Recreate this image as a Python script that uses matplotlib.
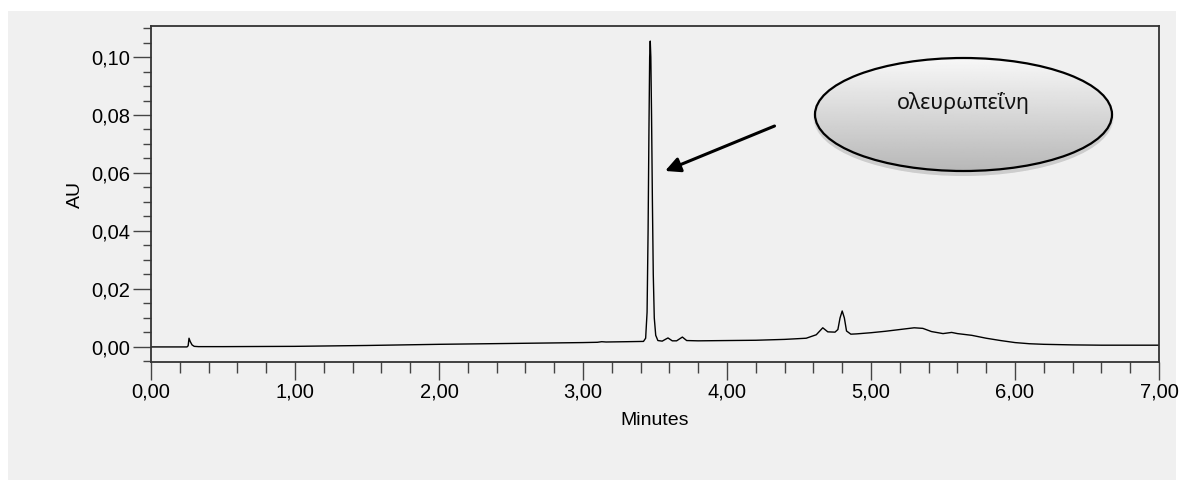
import numpy as np
import matplotlib.pyplot as plt
from matplotlib.patches import Ellipse, Rectangle
from matplotlib.ticker import MultipleLocator, FuncFormatter

plt.rcParams['font.family'] = ['Liberation Sans', 'DejaVu Sans']

# chromatogram trace (retention time in minutes, absorbance in AU)
minutes = [0.00, 0.25, 0.258, 0.264, 0.272, 0.285, 0.30, 0.33, 0.50, 1.00,
           1.50, 2.00, 2.50, 3.00, 3.10, 3.13, 3.16, 3.30, 3.42, 3.435,
           3.445, 3.452, 3.458, 3.463, 3.467, 3.471, 3.476, 3.482, 3.488, 3.495,
           3.505, 3.52, 3.55, 3.59, 3.62, 3.65, 3.69, 3.72, 3.80, 4.00,
           4.20, 4.40, 4.55, 4.62, 4.665, 4.70, 4.75, 4.77, 4.785, 4.80,
           4.815, 4.83, 4.86, 4.90, 5.00, 5.10, 5.20, 5.30, 5.36, 5.42,
           5.50, 5.56, 5.60, 5.70, 5.80, 5.90, 6.00, 6.10, 6.20, 6.40,
           6.60, 7.00]
au = [0.0000, 0.0000, 0.0004, 0.0030, 0.0019, 0.0007, 0.0002, 0.0001, 0.0001, 0.0002,
      0.0005, 0.0009, 0.0012, 0.0015, 0.0016, 0.0018, 0.0017, 0.0018, 0.0019, 0.0030,
      0.0120, 0.0400, 0.0750, 0.1000, 0.1055, 0.1000, 0.0800, 0.0500, 0.0250, 0.0100,
      0.0040, 0.0022, 0.0020, 0.0031, 0.0021, 0.0021, 0.0034, 0.0022, 0.0021, 0.0022,
      0.0023, 0.0026, 0.0030, 0.0042, 0.0066, 0.0052, 0.0051, 0.0060, 0.0100, 0.0124,
      0.0100, 0.0055, 0.0044, 0.0045, 0.0049, 0.0054, 0.0060, 0.0066, 0.0064, 0.0053,
      0.0046, 0.0050, 0.0046, 0.0040, 0.0030, 0.0022, 0.0015, 0.0011, 0.0009, 0.0007,
      0.0006, 0.0006]

peak_label = 'ολευρωπεΐνη'
bg = '#f0f0f0'

fig = plt.figure(figsize=(11.86, 4.8), dpi=100, facecolor='white')
fig.patches.append(Rectangle((8 / 1186, 0), 1168 / 1186, 469 / 480,
                             transform=fig.transFigure, facecolor=bg,
                             edgecolor='none', zorder=-10))

ax = fig.add_axes([151 / 1186, 118 / 480, 1008 / 1186, 336 / 480])
ax.set_facecolor(bg)
ax.plot(minutes, au, color='black', lw=1.0)

ax.set_xlim(0, 7)
ax.set_ylim(-0.0052, 0.1107)

ax.xaxis.set_major_locator(MultipleLocator(1))
ax.xaxis.set_minor_locator(MultipleLocator(0.2))
ax.yaxis.set_major_locator(MultipleLocator(0.02))
ax.yaxis.set_minor_locator(MultipleLocator(0.005))
comma = FuncFormatter(lambda v, p: f'{v:.2f}'.replace('.', ','))
ax.xaxis.set_major_formatter(comma)
ax.yaxis.set_major_formatter(comma)

ax.tick_params(which='both', direction='out', color='#444444', width=1.0,
               labelsize=14.5, top=False, right=False)
ax.tick_params(which='major', length=13, pad=2)
ax.tick_params(axis='y', which='minor', length=6)
ax.tick_params(axis='x', which='minor', length=8)
for s in ax.spines.values():
    s.set_color('#333333')
    s.set_linewidth(1.3)

ax.set_xlabel('Minutes', fontsize=14, labelpad=7)
ax.set_ylabel('AU', fontsize=14, labelpad=5)

# arrow pointing at the main peak
ax.annotate('', xy=(3.57, 0.0607), xytext=(4.33, 0.0762),
            arrowprops=dict(arrowstyle='-|>,head_length=0.9,head_width=0.45',
                            color='black', lw=2.2, shrinkA=0, shrinkB=0))

# grey callout bubble with gradient fill
pad = 12
ew, eh = 297, 113
ax_e = fig.add_axes([(815 - pad) / 1186, (309 - pad) / 480,
                     (ew + 2 * pad) / 1186, (eh + 2 * pad) / 480])
ax_e.axis('off')
cx, cy = ew / 2, eh / 2
for k, a in enumerate([0.04, 0.05, 0.06]):
    ax_e.add_patch(Ellipse((cx, cy - 3 - k), ew + 4 - 2 * k, eh + 4 - 2 * k,
                           facecolor='black', edgecolor='none', alpha=a,
                           zorder=0))
shape = Ellipse((cx, cy), ew, eh, facecolor='none', edgecolor='none', zorder=1)
ax_e.add_patch(shape)
grad = np.linspace(0.97, 0.72, 100)[:, None]
img = ax_e.imshow(grad, cmap='gray', vmin=0, vmax=1, aspect='auto',
                  extent=(0, ew, 0, eh), origin='upper',
                  interpolation='bilinear', zorder=1)
img.set_clip_path(shape)
ax_e.set_xlim(-pad, ew + pad)
ax_e.set_ylim(-pad, eh + pad)
ax_e.add_patch(Ellipse((cx, cy), ew, eh, facecolor='none', edgecolor='black',
                       lw=1.6, zorder=2))
ax_e.text(cx, cy + 12, peak_label, ha='center', va='center', fontsize=15.5,
          family=['Noto Sans', 'DejaVu Sans'], color='#111111', zorder=3)

fig.savefig('out.png', dpi=100, facecolor='white')
